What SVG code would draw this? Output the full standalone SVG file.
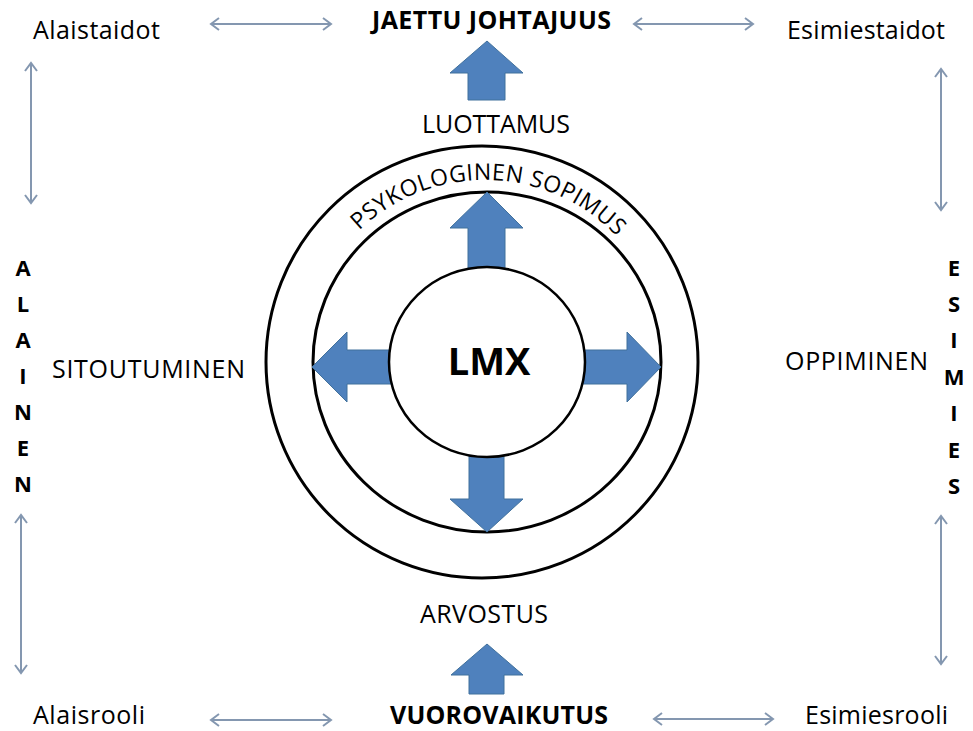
<svg xmlns="http://www.w3.org/2000/svg" width="973" height="731" viewBox="0 0 973 731">
  <style>
    .lbl { font-family: "Open Sans", "Liberation Sans", sans-serif; font-size: 25px; fill: #000; }
    .bold { font-weight: bold; }
    .vert { font-family: "Open Sans", "Liberation Sans", sans-serif; font-size: 22px; font-weight: bold; fill: #000; text-anchor: middle; }
    .ring { fill: none; stroke: #000; stroke-width: 3; }
    .blue { fill: #4F81BD; stroke: #41719C; stroke-width: 1; }
    .link { fill: none; stroke: #8497B0; stroke-width: 2; marker-start: url(#chev); marker-end: url(#chev); }
  </style>
  <defs>
    <marker id="chev" viewBox="-10 -8 12 16" markerWidth="12" markerHeight="16" refX="0" refY="0" orient="auto-start-reverse" markerUnits="userSpaceOnUse">
      <path d="M-8,-6 L0,0 L-8,6" fill="none" stroke="#8497B0" stroke-width="2"/>
    </marker>
    <path id="arcPath" d="M 303 362 A 182 182 0 0 1 667 362"/>
  </defs>
  <rect width="973" height="731" fill="#fff"/>

  <!-- rings -->
  <g id="rings">
    <ellipse class="ring" cx="482" cy="362" rx="216" ry="216"/>
    <ellipse class="ring" cx="487" cy="362" rx="174" ry="170"/>
  </g>

  <!-- block arrows radiating from the core -->
  <g id="block-arrows">
    <polygon class="blue" points="487,192 523,228 505,228 505,300 468,300 468,228 450,228"/>
    <polygon class="blue" points="487,532 523,499 504,499 504,420 469,420 469,499 450,499"/>
    <polygon class="blue" points="312,367 347,332 347,350 430,350 430,384 347,384 347,402"/>
    <polygon class="blue" points="661,367 627,332 627,350 540,350 540,384 627,384 627,402"/>
    <polygon class="blue" points="487,41 523,73 505,73 505,100 468,100 468,73 450,73"/>
    <polygon class="blue" points="487,644 523,675 504,675 504,694 469,694 469,675 451,675"/>
  </g>

  <!-- core -->
  <g id="lmx">
    <ellipse cx="487" cy="362" rx="98" ry="95" fill="#fff" stroke="#000" stroke-width="2.5"/>
    <text class="lbl bold" x="489" y="375" text-anchor="middle" style="font-size:38px">LMX</text>
  </g>

  <!-- text along the middle ring -->
  <g id="psykologinen">
    <text class="lbl" style="font-size:23px" letter-spacing="0.4">
      <textPath href="#arcPath" startOffset="290" text-anchor="middle">PSYKOLOGINEN SOPIMUS</textPath>
    </text>
  </g>

  <!-- double-headed links -->
  <g id="connectors">
    <line class="link" x1="211" y1="24" x2="331" y2="24"/>
    <line class="link" x1="634" y1="24" x2="753" y2="24"/>
    <line class="link" x1="211" y1="720" x2="331" y2="720"/>
    <line class="link" x1="654" y1="719" x2="773" y2="719"/>
    <line class="link" x1="31" y1="63" x2="31" y2="203"/>
    <line class="link" x1="21" y1="515" x2="21" y2="673"/>
    <line class="link" x1="941" y1="69" x2="941" y2="210"/>
    <line class="link" x1="941" y1="516" x2="941" y2="664"/>
  </g>

  <!-- labels -->
  <g id="alaistaidot"><text class="lbl" x="33" y="39" textLength="127">Alaistaidot</text></g>
  <g id="esimiestaidot"><text class="lbl" x="787" y="39" textLength="158">Esimiestaidot</text></g>
  <g id="jaettu-johtajuus"><text class="lbl bold" x="372" y="29" textLength="239">JAETTU JOHTAJUUS</text></g>
  <g id="luottamus"><text class="lbl" x="422" y="133" textLength="148">LUOTTAMUS</text></g>
  <g id="sitoutuminen"><text class="lbl" x="52" y="378" textLength="193">SITOUTUMINEN</text></g>
  <g id="oppiminen"><text class="lbl" x="785" y="370" textLength="143">OPPIMINEN</text></g>
  <g id="arvostus"><text class="lbl" x="420" y="623" textLength="128">ARVOSTUS</text></g>
  <g id="vuorovaikutus"><text class="lbl bold" x="390" y="724" textLength="218">VUOROVAIKUTUS</text></g>
  <g id="alaisrooli"><text class="lbl" x="33" y="724" textLength="112">Alaisrooli</text></g>
  <g id="esimiesrooli"><text class="lbl" x="805" y="724" textLength="143">Esimiesrooli</text></g>

  <!-- vertical side titles -->
  <g id="alainen">
    <text class="vert" x="23" y="276">A</text>
    <text class="vert" x="23" y="312">L</text>
    <text class="vert" x="23" y="348">A</text>
    <text class="vert" x="23" y="384">I</text>
    <text class="vert" x="23" y="420">N</text>
    <text class="vert" x="23" y="456">E</text>
    <text class="vert" x="23" y="492">N</text>
  </g>
  <g id="esimies">
    <text class="vert" x="954" y="276">E</text>
    <text class="vert" x="954" y="312">S</text>
    <text class="vert" x="954" y="348">I</text>
    <text class="vert" x="954" y="385">M</text>
    <text class="vert" x="954" y="421">I</text>
    <text class="vert" x="954" y="458">E</text>
    <text class="vert" x="954" y="494">S</text>
  </g>
</svg>
